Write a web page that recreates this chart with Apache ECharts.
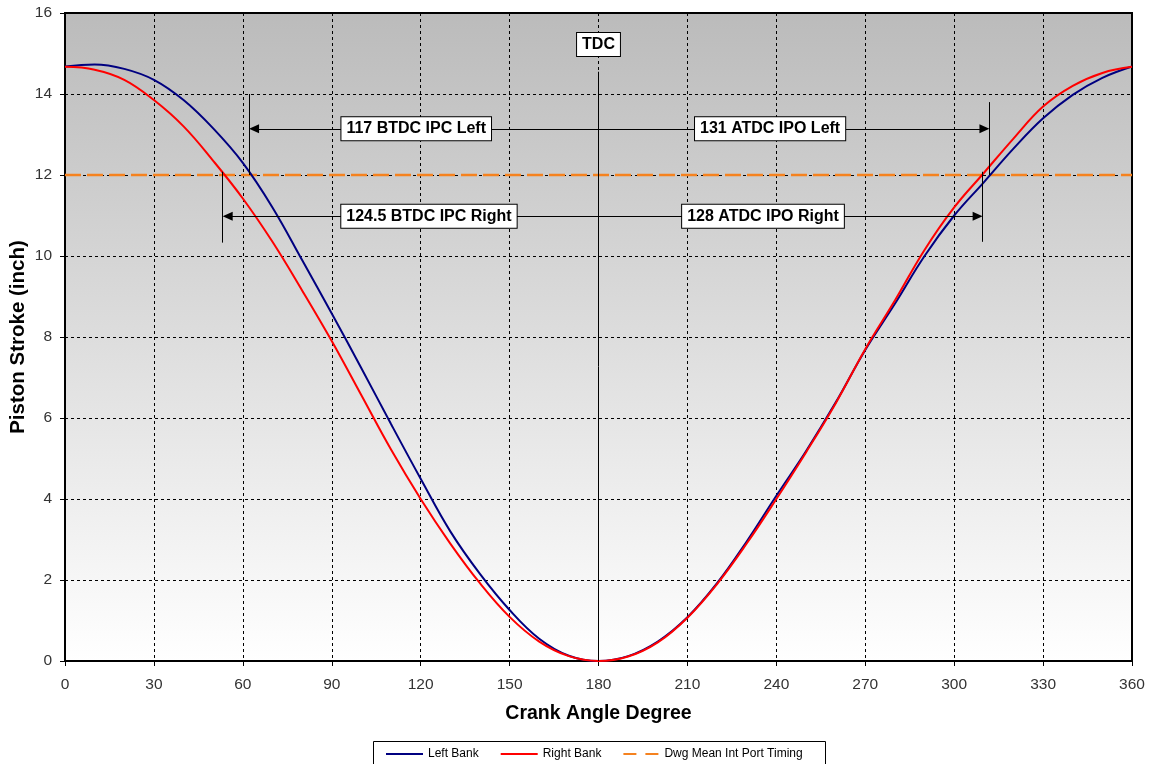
<!DOCTYPE html>
<html>
<head>
<meta charset="utf-8">
<script src="https://cdn.jsdelivr.net/npm/echarts/dist/echarts.min.js"></script>
<style>
html,body{margin:0;padding:0;background:#fff;}
#chart{width:1153px;height:764px;}
</style>
</head>
<body>
<div id="chart"></div>
<script>
// ---- data ----
const crankAngles = [0,10,20,30,40,50,60,70,80,90,100,110,120,130,140,150,160,170,180,
  190,200,210,220,230,240,250,260,270,280,290,300,310,320,330,340,350,360];
const leftBank = [14.68,14.73,14.62,14.35,13.85,13.15,12.30,11.20,9.90,8.58,7.23,5.85,4.50,3.20,2.15,1.26,0.55,0.13,0.00,
  0.12,0.48,1.08,1.92,2.95,4.08,5.18,6.38,7.68,8.82,10.00,11.00,11.82,12.65,13.40,13.98,14.40,14.68];
const rightBank = [14.67,14.60,14.35,13.85,13.20,12.35,11.42,10.35,9.15,7.90,6.56,5.22,4.00,2.90,1.92,1.09,0.48,0.12,0.00,
  0.11,0.46,1.07,1.90,2.90,4.00,5.15,6.36,7.70,8.90,10.15,11.20,12.05,12.90,13.69,14.20,14.52,14.67];
const portTimingAngles = [0, 360];
const portTimingLevel = [12, 12];
const seriesNames = ['Left Bank', 'Right Bank', 'Dwg Mean Int Port Timing'];

// event annotations (crank angle, stroke value)
const tdcAngle = 180;
const tdcLineTop = 14.55;
const tdcLabel = {text: 'TDC', angle: 180, stroke: 15.22};
// vertical markers: angle, from stroke, to stroke
const markerVerticals = [
  {angle: 62.1, from: 12.0, to: 14.0},
  {angle: 311.9, from: 12.0, to: 13.8},
  {angle: 53.2, from: 12.08, to: 10.33},
  {angle: 309.6, from: 12.08, to: 10.35}
];
// arrows from TDC to event angle at a given stroke level
const markerArrows = [
  {to: 62.1, level: 13.14},
  {to: 311.9, level: 13.14},
  {to: 53.2, level: 10.98},
  {to: 309.6, level: 10.98}
];
const markerLabels = [
  {text: '117 BTDC IPC Left', angle: 118.5, stroke: 13.14},
  {text: '131 ATDC IPO Left', angle: 237.9, stroke: 13.14},
  {text: '124.5 BTDC IPC Right', angle: 122.8, stroke: 10.98},
  {text: '128 ATDC IPO Right', angle: 235.5, stroke: 10.98}
];

// ---- chart ----
const FONT = '"Liberation Sans", Arial, sans-serif';
const chart = echarts.init(document.getElementById('chart'), null, {renderer: 'canvas'});

const degPerPx = 360 / 1067;
const arrowHalf = 5 * degPerPx;

const mlData = [];
mlData.push([{coord: [tdcAngle, tdcLineTop]}, {coord: [tdcAngle, 0]}]);
markerVerticals.forEach(v => {
  mlData.push([{coord: [v.angle, v.from]}, {coord: [v.angle, v.to]}]);
});
markerArrows.forEach(a => {
  const dir = a.to < tdcAngle ? 1 : -1;
  mlData.push([
    {coord: [tdcAngle, a.level], symbol: 'none'},
    {coord: [a.to + dir * arrowHalf, a.level], symbol: 'triangle', symbolSize: [9, 10]}
  ]);
});

const labelPoints = [tdcLabel].concat(markerLabels).map(l => ({name: l.text, coord: [l.angle, l.stroke]}));

const solidIcon = 'path://M0,0h37v2h-37z';
const dashIcon = 'path://M0,0h13v2h-13z M22,0h13v2h-13z';

const option = {
  animation: false,
  backgroundColor: '#ffffff',
  textStyle: {fontFamily: FONT},
  grid: {
    left: 65, right: 21, top: 13, bottom: 103,
    outerBoundsMode: 'none',
    containLabel: false,
    show: true,
    backgroundColor: new echarts.graphic.LinearGradient(0, 0, 0, 1, [
      {offset: 0, color: '#bbbbbb'},
      {offset: 1, color: '#ffffff'}
    ]),
    borderColor: '#000', borderWidth: 2
  },
  graphic: [{
    type: 'rect', left: 373, top: 741, silent: true, z: 0,
    shape: {width: 452, height: 40},
    style: {fill: '#fff', stroke: '#000', lineWidth: 1}
  }],
  legend: {
    data: [
      {name: seriesNames[0], icon: solidIcon},
      {name: seriesNames[1], icon: solidIcon},
      {name: seriesNames[2], icon: dashIcon}
    ],
    left: 373, top: 742,
    itemWidth: 37, itemHeight: 2, itemGap: 22,
    padding: [6, 16, 6, 13],
    borderWidth: 0,
    textStyle: {fontSize: 12, color: '#000', fontFamily: FONT, lineHeight: 12}
  },
  xAxis: {
    type: 'value', min: 0, max: 360, interval: 30,
    name: 'Crank Angle Degree', nameLocation: 'middle', nameGap: 43,
    nameMoveOverlap: false,
    nameTextStyle: {fontWeight: 'bold', fontSize: 19.5, color: '#000', fontFamily: FONT},
    axisLine: {show: true, onZero: false, lineStyle: {color: '#000', width: 2}},
    axisTick: {show: true, length: 5, lineStyle: {color: '#000', width: 1}},
    axisLabel: {color: '#333', fontSize: 15.5, margin: 16, fontFamily: FONT},
    splitLine: {show: true, lineStyle: {color: '#000', width: 1, type: [3, 3]}}
  },
  yAxis: {
    type: 'value', min: 0, max: 16, interval: 2,
    name: 'Piston Stroke (inch)', nameLocation: 'middle', nameGap: 36,
    nameMoveOverlap: false,
    nameTextStyle: {fontWeight: 'bold', fontSize: 20.5, color: '#000', fontFamily: FONT},
    axisLine: {show: true, onZero: false, lineStyle: {color: '#000', width: 2}},
    axisTick: {show: true, length: 5, lineStyle: {color: '#000', width: 1}},
    axisLabel: {color: '#333', fontSize: 15.5, margin: 13, fontFamily: FONT},
    splitLine: {show: true, lineStyle: {color: '#000', width: 1, type: [3, 3]}}
  },
  series: [
    {
      name: seriesNames[0], type: 'line', z: 4,
      data: crankAngles.map((a, i) => [a, leftBank[i]]),
      smooth: 0.4, symbol: 'none', showSymbol: false,
      lineStyle: {color: '#000080', width: 2}, itemStyle: {color: '#000080'}
    },
    {
      name: seriesNames[1], type: 'line', z: 4,
      data: crankAngles.map((a, i) => [a, rightBank[i]]),
      smooth: 0.4, symbol: 'none', showSymbol: false,
      lineStyle: {color: '#ff0000', width: 2}, itemStyle: {color: '#ff0000'}
    },
    {
      name: seriesNames[2], type: 'line', z: 3,
      data: portTimingAngles.map((a, i) => [a, portTimingLevel[i]]),
      symbol: 'none', showSymbol: false,
      lineStyle: {color: '#f5821f', width: 2.5, type: [16, 6]}, itemStyle: {color: '#f5821f'}
    },
    {
      name: 'annotations', type: 'line', data: [], silent: true,
      markLine: {
        silent: true, animation: false, z: 5,
        symbol: 'none',
        label: {show: false},
        lineStyle: {color: '#000', width: 1, type: 'solid'},
        data: mlData
      },
      markPoint: {
        silent: true, animation: false, z: 10,
        symbol: 'rect', symbolSize: 1,
        itemStyle: {color: 'rgba(0,0,0,0)'},
        label: {
          show: true, position: 'inside',
          formatter: p => p.name,
          color: '#000', fontWeight: 'bold', fontSize: 16, fontFamily: FONT,
          lineHeight: 16,
          backgroundColor: '#fff', borderColor: '#000', borderWidth: 1,
          padding: [4, 5, 3, 5]
        },
        data: labelPoints
      }
    }
  ]
};
chart.setOption(option);
</script>
</body>
</html>
